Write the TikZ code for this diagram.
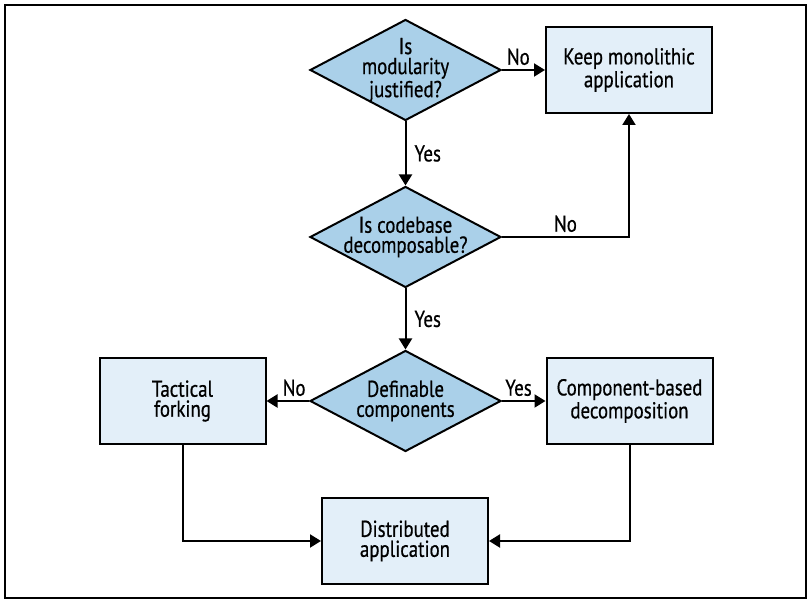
\documentclass[tikz,border=0pt]{standalone}
\usepackage{fontspec}
\setmainfont{PT Sans}[FakeStretch=0.82,FakeBold=0.6]
\usetikzlibrary{arrows.meta,shapes.geometric}
\definecolor{diafill}{HTML}{AAD0E9}
\definecolor{boxfill}{HTML}{E3EFF9}

\begin{document}
\begin{tikzpicture}[x=0.5pt,y=-0.5pt,>={Triangle[length=5.5pt,width=6.5pt]},
  font=\fontsize{11.5pt}{10pt}\selectfont,
  decision/.style={diamond,draw,line width=1pt,fill=diafill,aspect=1.9,
    inner sep=-3.5pt,minimum width=95.5pt,minimum height=50.5pt,align=center},
  block/.style={rectangle,draw,line width=1pt,fill=boxfill,
    minimum width=83pt,minimum height=43pt,align=center},
  lbl/.style={inner sep=2pt}]
\useasboundingbox (0,0) rectangle (811,603);
\draw[line width=0.75pt] (5,5) rectangle (806,598);
% decisions
\node[decision] (modular) at (405.5,70) {Is\\modularity\\justified?};
\node[decision] (decomp) at (405.5,237) {Is codebase\\decomposable?};
\node[decision] (definable) at (405.5,401) {Definable\\components};
% outcomes
\node[block] (keep) at (629,70) {Keep monolithic\\application};
\node[block] (tactical) at (182.5,401) {Tactical\\forking};
\node[block] (component) at (629.5,401) {Component-based\\decomposition};
\node[block] (distributed) at (405,541) {Distributed\\application};
% connectors
\draw[->,line width=1pt] (modular) -- node[lbl,above,pos=0.38] {No} (keep);
\draw[->,line width=1pt] (modular) -- node[lbl,right,xshift=2pt] {Yes} (decomp);
\draw[->,line width=1pt] (decomp.east) -| node[lbl,above,pos=0.25] {No} (keep.south);
\draw[->,line width=1pt] (decomp) -- node[lbl,right,xshift=2pt] {Yes} (definable);
\draw[->,line width=1pt] (definable) -- node[lbl,above,pos=0.35] {No} (tactical);
\draw[->,line width=1pt] (definable) -- node[lbl,above,pos=0.38] {Yes} (component);
\draw[->,line width=1pt] (tactical.south) |- (distributed.west);
\draw[->,line width=1pt] (component.south) |- (distributed.east);
\end{tikzpicture}
\end{document}
